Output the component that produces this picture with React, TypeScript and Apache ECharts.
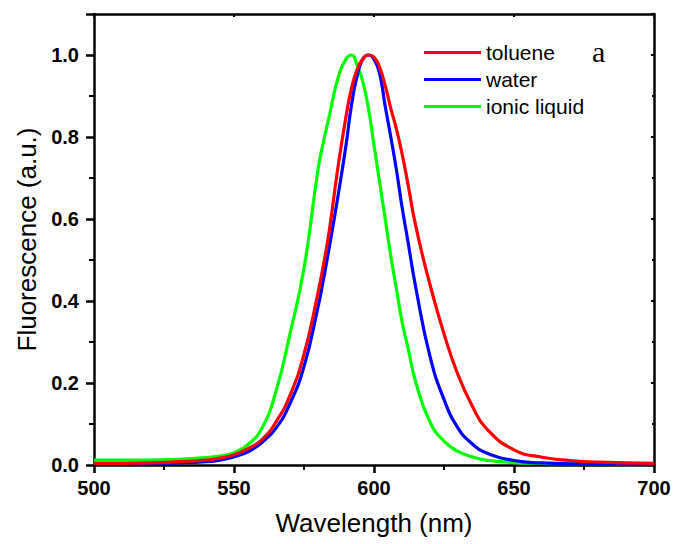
import React, { useEffect, useRef } from "react";
import * as echarts from "echarts";

const wavelengths = [500, 510, 520, 530, 540, 545, 550, 555, 560, 565, 570, 575, 580, 582, 584, 587, 590, 592, 594, 596, 598, 600, 602, 604, 606, 608, 610, 612, 615, 620, 625, 630, 635, 640, 650, 660, 670, 680, 700];

const toluene = [0.004, 0.004, 0.005, 0.008, 0.012, 0.017, 0.025, 0.04, 0.062, 0.105, 0.17, 0.27, 0.42, 0.49, 0.57, 0.72, 0.85, 0.92, 0.965, 0.99, 1.0, 0.995, 0.97, 0.925, 0.87, 0.82, 0.76, 0.69, 0.58, 0.44, 0.32, 0.22, 0.145, 0.09, 0.037, 0.019, 0.011, 0.007, 0.004];
const water = [0.003, 0.003, 0.004, 0.005, 0.008, 0.012, 0.02, 0.032, 0.055, 0.09, 0.15, 0.24, 0.385, 0.455, 0.53, 0.65, 0.78, 0.88, 0.95, 0.99, 1.0, 0.99, 0.955, 0.875, 0.8, 0.72, 0.63, 0.55, 0.43, 0.265, 0.16, 0.09, 0.052, 0.03, 0.011, 0.005, 0.003, 0.003, 0.003];
const ionicLiquid = [0.012, 0.012, 0.012, 0.014, 0.018, 0.022, 0.03, 0.05, 0.09, 0.18, 0.32, 0.48, 0.72, 0.79, 0.85, 0.94, 0.99, 1.0, 0.975, 0.935, 0.87, 0.78, 0.69, 0.6, 0.51, 0.43, 0.35, 0.29, 0.2, 0.105, 0.058, 0.033, 0.02, 0.012, 0.006, 0.004, 0.003, 0.003, 0.003];

const seriesNames = ["toluene", "water", "ionic liquid"];
const seriesColors = ["#ff0000", "#0000ff", "#00ff00"];

const FONT = "Liberation Sans, Arial, sans-serif";

export default function App() {
  const ref = useRef<HTMLDivElement>(null);
  useEffect(() => {
    if (!ref.current) return;
    const chart = echarts.init(ref.current, undefined, { renderer: "svg" });
    const datasets = [toluene, water, ionicLiquid];
    const series = datasets.map((vals, i) => ({
      name: seriesNames[i],
      type: "line",
      data: wavelengths.map((w, j) => [w, vals[j]]),
      symbol: "none",
      smooth: 0.5,
      lineStyle: { color: seriesColors[i], width: 3.2 },
      itemStyle: { color: seriesColors[i] },
      z: 3 - i,
    }));
    chart.setOption({
      animation: false,
      backgroundColor: "#ffffff",
      grid: { left: 94, right: 20, top: 14, bottom: 79, containLabel: false },
      legend: {
        data: seriesNames,
        orient: "vertical",
        left: 424,
        top: 42,
        padding: 0,
        icon: "rect",
        itemWidth: 57,
        itemHeight: 3,
        itemGap: 6,
        textStyle: { fontFamily: FONT, fontSize: 21, lineHeight: 21, color: "#000" },
      },
      graphic: [
        {
          type: "text",
          left: 592,
          top: 36,
          style: { text: "a", fontFamily: "Liberation Serif, Times New Roman, serif", fontSize: 30, fill: "#000" },
        },
      ],
      xAxis: [
        {
          type: "value",
          min: 500,
          max: 700,
          interval: 50,
          position: "bottom",
          name: "Wavelength (nm)",
          nameLocation: "middle",
          nameGap: 45,
          nameTextStyle: { fontFamily: FONT, fontSize: 26, color: "#000" },
          axisLine: { show: true, onZero: false, lineStyle: { color: "#000", width: 2.5 } },
          axisTick: { show: true, inside: false, length: 8, lineStyle: { color: "#000", width: 2.5 } },
          minorTick: { show: true, splitNumber: 2, length: 5, lineStyle: { color: "#000", width: 2 } },
          axisLabel: { fontFamily: FONT, fontSize: 20, fontWeight: "bold", color: "#000", margin: 13 },
          splitLine: { show: false },
        },
        {
          type: "value",
          min: 500,
          max: 700,
          interval: 50,
          position: "top",
          axisLine: { show: true, onZero: false, lineStyle: { color: "#000", width: 2.5 } },
          axisTick: { show: true, inside: true, length: 3, lineStyle: { color: "#000", width: 2 } },
          axisLabel: { show: false },
          splitLine: { show: false },
        },
      ],
      yAxis: [
        {
          type: "value",
          min: 0,
          max: 1.1,
          interval: 0.2,
          position: "left",
          name: "Fluorescence (a.u.)",
          nameLocation: "middle",
          nameGap: 54,
          nameTextStyle: { fontFamily: FONT, fontSize: 26, color: "#000" },
          axisLine: { show: true, onZero: false, lineStyle: { color: "#000", width: 2.5 } },
          axisTick: { show: true, inside: false, length: 8, lineStyle: { color: "#000", width: 2.5 } },
          minorTick: { show: true, splitNumber: 2, length: 5, lineStyle: { color: "#000", width: 2 } },
          axisLabel: {
            fontFamily: FONT,
            fontSize: 20,
            fontWeight: "bold",
            color: "#000",
            margin: 15,
            formatter: (v: number) => (v > 1.05 ? "" : v.toFixed(1)),
          },
          splitLine: { show: false },
        },
        {
          type: "value",
          min: 0,
          max: 1.1,
          interval: 0.2,
          position: "right",
          axisLine: { show: true, onZero: false, lineStyle: { color: "#000", width: 2.5 } },
          axisTick: { show: true, inside: true, length: 3, lineStyle: { color: "#000", width: 2 } },
          minorTick: { show: true, splitNumber: 2, length: 2, lineStyle: { color: "#000", width: 2 } },
          axisLabel: { show: false },
          splitLine: { show: false },
        },
      ],
      series,
    });
    return () => chart.dispose();
  }, []);
  return <div ref={ref} style={{ width: 674, height: 544, position: "absolute", left: 0, top: 0 }} />;
}
